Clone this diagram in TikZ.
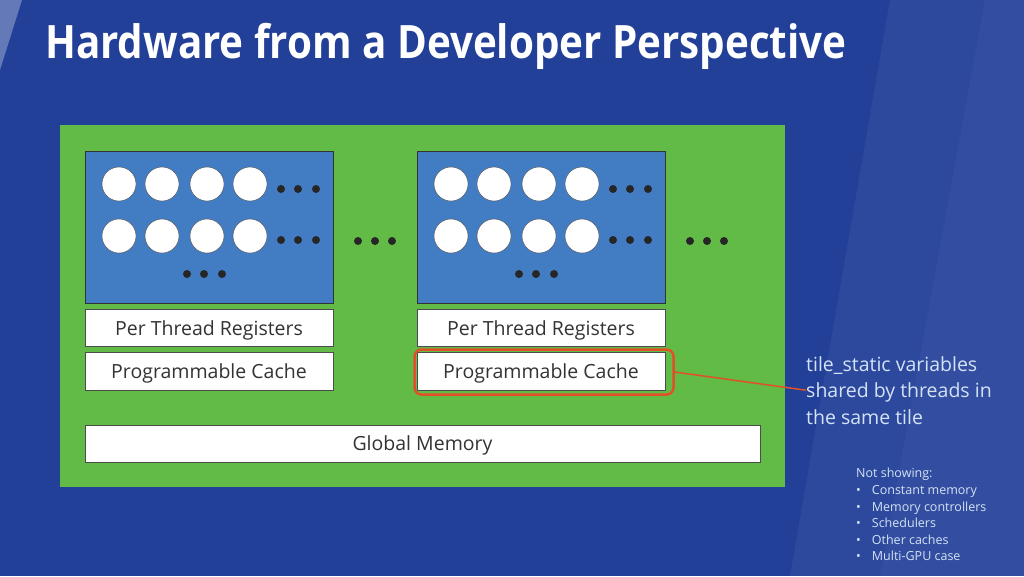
\documentclass[tikz,border=0pt]{standalone}
\usepackage{fontspec}
\setmainfont{Open Sans}
\usetikzlibrary{positioning}
\definecolor{slidebg}{RGB}{34,64,152}
\definecolor{chipgreen}{RGB}{98,187,70}
\definecolor{smblue}{RGB}{66,124,195}
\definecolor{hilite}{RGB}{226,80,40}
\definecolor{notetext}{RGB}{212,226,246}
\tikzset{
  membox/.style={draw=black!70, fill=white, minimum width=248pt, minimum height=37pt, inner sep=0pt, text height=15pt, text depth=1pt, text=black!80, font=\fontsize{19.5}{23}\selectfont},
  smbox/.style={draw=black!80, fill=smblue, minimum width=248pt, minimum height=152pt},
  thread/.style={circle, draw=black!70, fill=white, minimum size=34pt, inner sep=0pt},
  dot/.style={circle, fill=black!85, minimum size=8pt, inner sep=0pt},
}
\begin{document}
\begin{tikzpicture}[x=1pt,y=-1pt]
  \fill[slidebg] (0,0) rectangle (1024,576);
  \useasboundingbox (0,0) rectangle (1024,576);
  \fill[white,opacity=0.3] (0,0) -- (22,0) -- (0,70) -- cycle;
  \fill[white,opacity=0.05] (890,0) -- (1024,0) -- (1024,576) -- (790,576) -- cycle;
  \fill[white,opacity=0.03] (985,0) -- (1024,0) -- (1024,576) -- (880,576) -- cycle;
  \node[anchor=base west, inner sep=0pt, text=white, font=\fontsize{46}{56}\selectfont\bfseries] (title) at (45,58) {\scalebox{0.877}[1]{Hardware from a Developer Perspective}};

  \node[fill=chipgreen, minimum width=725pt, minimum height=362pt, anchor=north west] (gpu) at (60,125) {};
  \node[smbox] (smL) at (209,227) {};
  \node[smbox] (smR) at (541,227) {};
  \foreach \o in {0,332}{
    \foreach \x in {119,162,207,250}
      \foreach \y in {184,236}
        \node[thread] at (\x+\o,\y) {};
    \foreach \x in {281,298,316}
      \foreach \y in {189,240}
        \node[dot] at (\x+\o,\y) {};
    \foreach \x in {187,204,222}
      \node[dot] at (\x+\o,274) {};
  }
  \foreach \x in {358,375,392,690,707,724}
    \node[dot] at (\x,241) {};

  \node[membox] (regL) at (209,328) {Per Thread Registers};
  \node[membox] (regR) at (541,328) {Per Thread Registers};
  \node[membox, minimum height=38pt] (cacheL) at (209,371) {Programmable Cache};
  \node[membox, minimum height=38pt] (cacheR) at (541,371) {Programmable Cache};
  \node[membox, minimum width=675pt] (gmem) at (422.5,443.5) {Global Memory};

  \node[draw=hilite, line width=2.5pt, rounded corners=7pt, minimum width=259pt, minimum height=45pt] (hl) at (544,372) {};
  \node[anchor=north west, align=left, inner sep=0pt, text=notetext, font=\fontsize{19.5}{26.5}\selectfont] (note) at (806,356) {tile\_static variables\\shared by threads in\\the same tile};
  \draw[hilite, line width=1.5pt] (hl.east) -- (note.west);

  \node[anchor=north west, inner sep=0pt, text=notetext, font=\fontsize{12.5}{16.6}\selectfont] (omit) at (856,466) {%
    \begin{tabular}{@{}l@{\hspace{11pt}}l@{}}
      \multicolumn{2}{@{}l}{Not showing:}\\
      • & Constant memory\\
      • & Memory controllers\\
      • & Schedulers\\
      • & Other caches\\
      • & Multi-GPU case
    \end{tabular}};
\end{tikzpicture}
\end{document}
